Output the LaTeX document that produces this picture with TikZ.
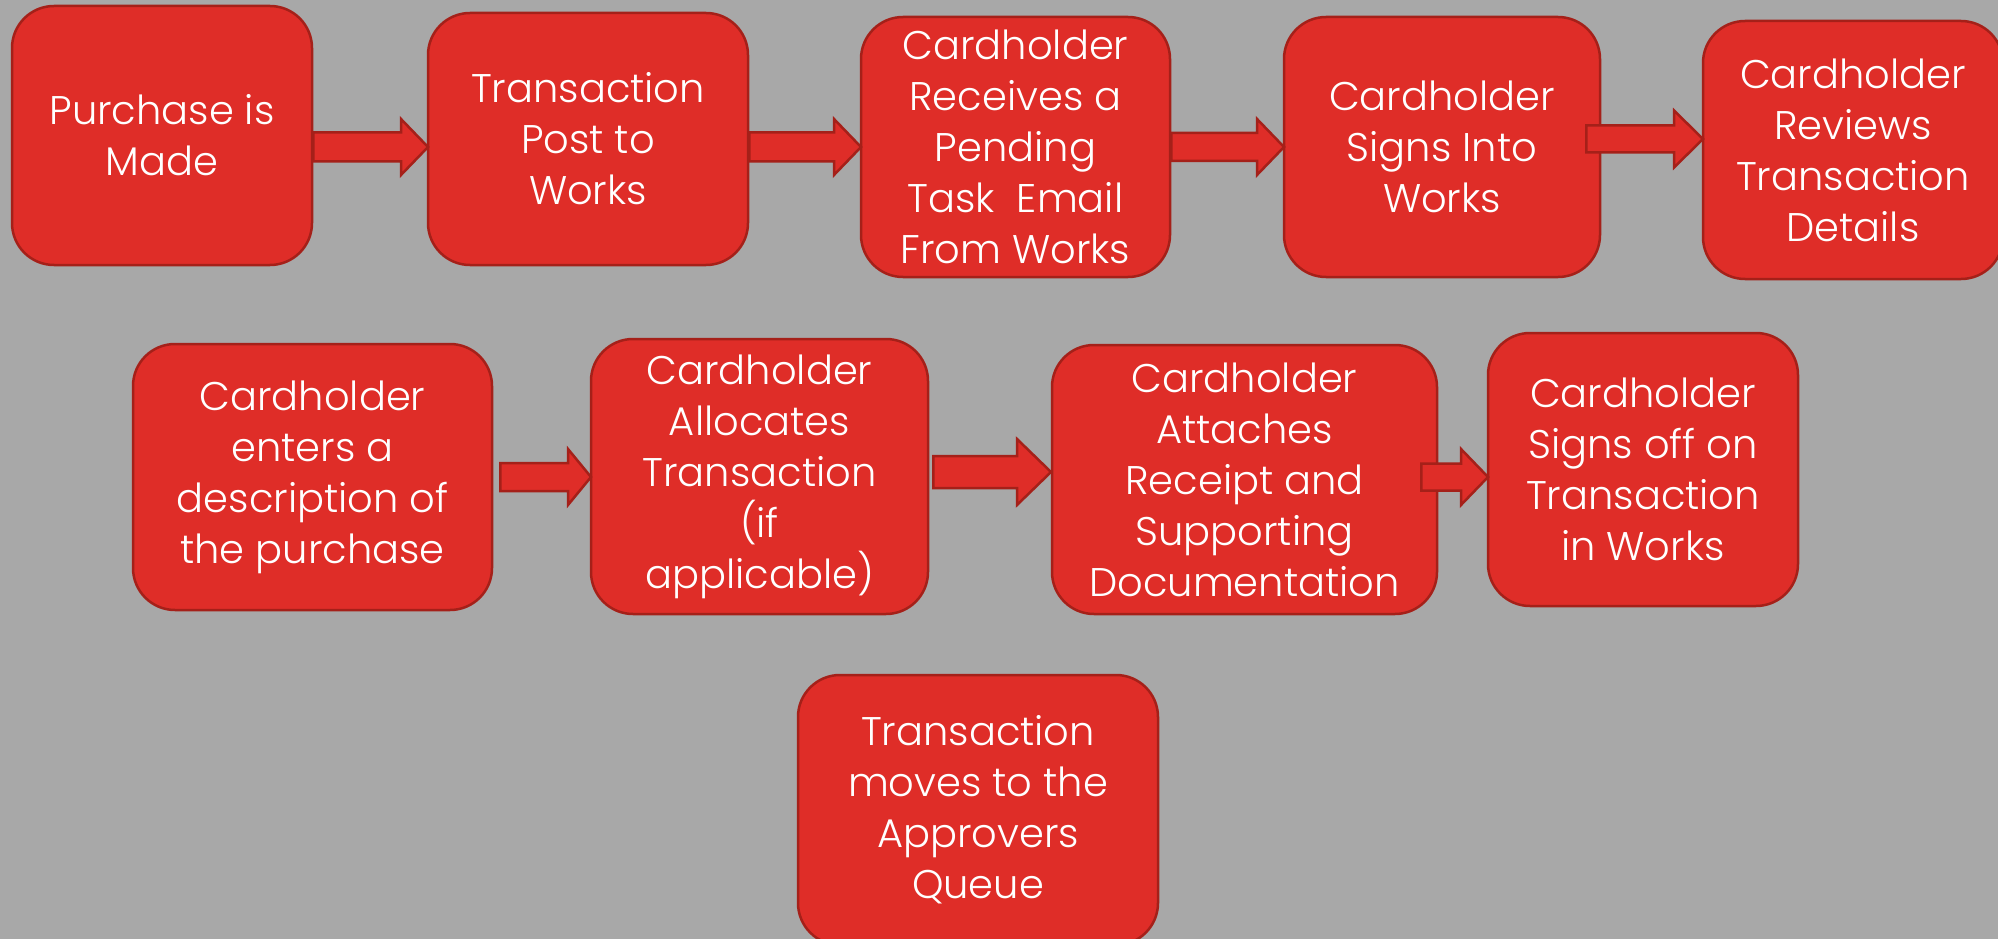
\documentclass[tikz,border=0pt]{standalone}
\usepackage{fontspec}
\setmainfont{Poppins Light}
\usetikzlibrary{calc}
\definecolor{bgc}{HTML}{A8A8A8}
\definecolor{boxfill}{HTML}{DF2D28}
\definecolor{boxline}{HTML}{A52019}
\tikzset{
  stepbox/.style={draw=boxline, line width=2.5pt, fill=boxfill, rounded corners=42pt,
    text=white, align=center, inner sep=0pt,
    font=\fontsize{40}{51}\selectfont},
  blockarrow/.style={draw=boxline, line width=2.5pt, fill=boxfill, line join=miter}
}
% #1 start point, #2 tip point, #3 shaft half width, #4 head length, #5 head half width
\newcommand\blkarrow[5]{%
  \path[blockarrow] let \p1=#1, \p2=#2 in
    (\x1,\y2+#3) -- (\x2-#4,\y2+#3) -- (\x2-#4,\y2+#5) -- (\x2,\y2)
    -- (\x2-#4,\y2-#5) -- (\x2-#4,\y2-#3) -- (\x1,\y2-#3) -- cycle;}
\begin{document}
\begin{tikzpicture}[x=1pt,y=-1pt]
\fill[bgc] (0,0) rectangle (1998,939);
\useasboundingbox (0,0) rectangle (1998,939);
\clip (0,0) rectangle (1998,939);
% row 1
\node[stepbox, minimum width=300pt, minimum height=259pt] (b1) at (162,135.5) {Purchase is\\Made};
\node[stepbox, minimum width=320pt, minimum height=252pt] (b2) at (588,139) {Transaction\\Post to\\Works};
\node[stepbox, minimum width=309pt, minimum height=260pt] (b3) at (1015.5,147) {Cardholder\\Receives a\\Pending\\Task\ \ Email\\From Works};
\node[stepbox, minimum width=316pt, minimum height=260pt] (b4) at (1442,147) {Cardholder\\Signs Into\\Works};
\node[stepbox, minimum width=300pt, minimum height=258pt] (b5) at (1853,150) {Cardholder\\Reviews\\Transaction\\Details};
% row 2
\node[stepbox, minimum width=359pt, minimum height=266pt] (b6) at (312.5,477) {Cardholder\\enters a\\description of\\the purchase};
\node[stepbox, minimum width=337pt, minimum height=275pt] (b7) at (759.5,476.5) {Cardholder\\Allocates\\Transaction\\(if\\applicable)};
\node[stepbox, minimum width=385pt, minimum height=269pt] (b8) at (1244.5,479.5) {Cardholder\\Attaches\\Receipt and\\Supporting\\Documentation};
\node[stepbox, minimum width=310pt, minimum height=273pt] (b9) at (1643,469.5) {Cardholder\\Signs off on\\Transaction\\in Works};
% row 3
\node[stepbox, minimum width=360pt, minimum height=270pt] (b10) at (978,810) {Transaction\\moves to the\\Approvers\\Queue};
% arrows
\coordinate (t1) at (428,147);
\coordinate (t2) at (861,147);
\coordinate (t3) at (1284,147);
\coordinate (t4) at (1703,139);
\coordinate (t5) at (591,477);
\coordinate (t6) at (1051,472);
\coordinate (t7) at (1488,477);
\blkarrow{(b1.east)}{(t1)}{14.5pt}{27pt}{28pt}
\blkarrow{(b2.east)}{(t2)}{14.5pt}{27pt}{28pt}
\blkarrow{(b3.east)}{(t3)}{14pt}{27pt}{28pt}
\blkarrow{([xshift=-15pt]b4.east)}{(t4)}{13.5pt}{29pt}{28.5pt}
\blkarrow{([xshift=7pt]b6.east)}{(t5)}{14pt}{23pt}{28pt}
\blkarrow{([xshift=4pt]b7.east)}{(t6)}{16pt}{34pt}{33pt}
\blkarrow{([xshift=-17pt]b8.east)}{(t7)}{13.5pt}{27pt}{28pt}
\end{tikzpicture}
\end{document}
